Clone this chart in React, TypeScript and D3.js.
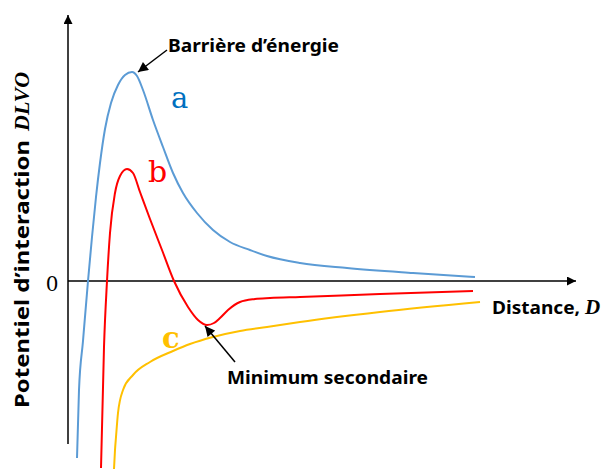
import React from 'react';
import * as d3 from 'd3';

// distance D (arbitrary units) and DLVO potential (arbitrary units)
const curveA_D = [1.8, 2.2, 3.0, 4.0, 4.8, 5.6, 6.4, 7.4, 8.6, 10.0, 11.4, 12.8, 13.8, 15, 17, 19, 21, 23, 25.8, 29, 32.4, 36.4, 39.8, 46.4, 55.8, 69, 81.4];
const curveA_V = [-88.5, -54.5, -30, 0, 22, 42, 59, 76, 89, 98, 103, 104.5, 102.5, 95.5, 80.5, 67, 54, 44, 34, 25.5, 19.5, 15.5, 12.5, 9, 6.5, 4, 2];

const curveB_D = [6.6, 7.2, 7.8, 8.4, 9.4, 10.4, 11.8, 13, 14.4, 16.4, 18.8, 21.2, 24, 26, 27.8, 29.2, 30.4, 32, 34.4, 37.4, 40.4, 46.4, 62.4, 81];
const curveB_V = [-93.5, -33, 0, 24, 44, 52.5, 56, 54, 44.5, 31, 15.5, 0, -13, -19.5, -22, -21, -18.5, -14.5, -10.5, -9, -8.5, -8, -6.5, -5];

const curveC_D = [9.2, 9.4, 9.6, 10, 11, 13, 16.4, 21, 24.4, 29, 34.4, 39.8, 46.4, 62.4, 82.4];
const curveC_V = [-94, -84.5, -78, -66, -54.5, -47, -40.5, -35, -31.5, -28, -25, -23, -20.5, -15.5, -10.5];

const curveNames = ['a', 'b', 'c'];
const curveColors = ['#5B9BD5', '#FF0000', '#FFC000'];
const labelColors = ['#0070C0', '#FF0000', '#FFC000'];
// label anchor in data units
const labelD = [20.6, 16, 18.8];
const labelV = [86.5, 49.5, -33.5];

const barrierPoint = [14, 104.5];
const minimumPoint = [27.4, -22.5];

const W = 601;
const H = 469;

export default function App() {
  const x = d3.scaleLinear().domain([0, 100]).range([68, 568]);
  const y = d3.scaleLinear().domain([-90, 130]).range([461, 21]);

  const line = d3
    .line<[number, number]>()
    .x((d) => x(d[0]))
    .y((d) => y(d[1]))
    .curve(d3.curveMonotoneX);

  const series = [
    d3.zip(curveA_D, curveA_V) as [number, number][],
    d3.zip(curveB_D, curveB_V) as [number, number][],
    d3.zip(curveC_D, curveC_V) as [number, number][],
  ];

  const x0 = x(0);
  const y0 = y(0);
  const sans = "'Noto Sans', 'Open Sans', sans-serif";
  const serif = "'DejaVu Serif', 'Liberation Serif', serif";
  const mathSerif = "'Liberation Serif', serif";

  return (
    <svg
      width={W}
      height={H}
      style={{ position: 'absolute', left: 0, top: 0, background: '#fff' }}
    >
      <defs>
        <marker id="axisHead" viewBox="0 0 10 10" refX="10" refY="5" markerWidth="11" markerHeight="9"
          markerUnits="userSpaceOnUse" orient="auto">
          <path d="M0,0 L10,5 L0,10 Z" fill="#000" />
        </marker>
        <marker id="noteHead" viewBox="0 0 10 10" refX="10" refY="5" markerWidth="11" markerHeight="10"
          markerUnits="userSpaceOnUse" orient="auto">
          <path d="M0,0 L10,5 L0,10 Z" fill="#000" />
        </marker>
      </defs>

      {/* axes */}
      <line x1={x0} y1={444} x2={x0} y2={15} stroke="#000" strokeWidth={1.5} markerEnd="url(#axisHead)" />
      <line x1={x0} y1={y0} x2={576} y2={y0} stroke="#000" strokeWidth={1.5} markerEnd="url(#axisHead)" />

      <text x={52} y={y0 + 10} fontFamily={serif} fontSize={20} textAnchor="middle">0</text>

      {/* curves */}
      {series.map((s, i) => (
        <path key={curveNames[i]} d={line(s) || ''} fill="none" stroke={curveColors[i]} strokeWidth={2} />
      ))}

      {curveNames.map((n, i) => (
        <text key={'lab' + n} x={x(labelD[i])} y={y(labelV[i])} fill={labelColors[i]}
          fontFamily={serif} fontSize={n === 'b' ? 30 : 29} fontWeight={n === 'c' ? 'bold' : 'normal'}>
          {n}
        </text>
      ))}

      {/* annotations */}
      <line x1={167} y1={50} x2={x(barrierPoint[0])} y2={y(barrierPoint[1])} stroke="#000" strokeWidth={1.5}
        markerEnd="url(#noteHead)" />
      <text x={168} y={52} fontFamily={sans} fontWeight="bold" fontSize={17} textLength={171}
        lengthAdjust="spacingAndGlyphs">Barrière d’énergie</text>

      <line x1={235} y1={362} x2={x(minimumPoint[0])} y2={y(minimumPoint[1])} stroke="#000" strokeWidth={1.5}
        markerEnd="url(#noteHead)" />
      <text x={227} y={384} fontFamily={sans} fontWeight="bold" fontSize={17} textLength={201}
        lengthAdjust="spacingAndGlyphs">Minimum secondaire</text>

      <text x={492} y={314} fontFamily={sans} fontWeight="bold" fontSize={17}>
        <tspan textLength={88} lengthAdjust="spacingAndGlyphs">Distance,</tspan>
        <tspan fontFamily={mathSerif} fontStyle="italic" fontSize={21} dx={5}>D</tspan>
      </text>

      <text transform="translate(29,408) rotate(-90)" fontFamily={sans} fontWeight="bold" fontSize={19}>
        <tspan textLength={268} lengthAdjust="spacingAndGlyphs">Potentiel d’interaction</tspan>
        <tspan fontFamily={mathSerif} fontStyle="italic" fontSize={22} dx={9}>DLVO</tspan>
      </text>
    </svg>
  );
}
